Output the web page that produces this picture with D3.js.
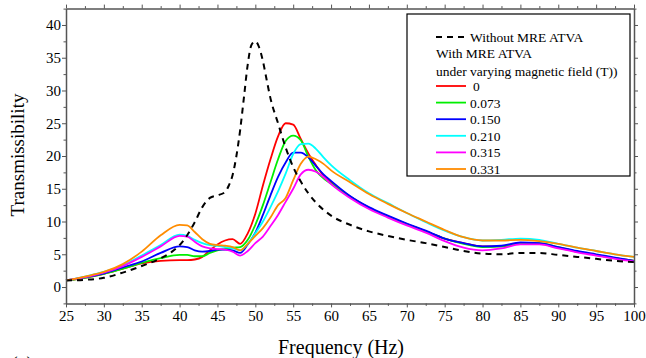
<!DOCTYPE html>
<html>
<head>
<meta charset="utf-8">
<script src="https://cdn.jsdelivr.net/npm/d3@7/dist/d3.min.js"></script>
<style>
  body { margin: 0; background: #fff; }
  svg text { font-family: "Liberation Serif", "Times New Roman", Times, "DejaVu Serif", serif !important; }
</style>
</head>
<body>
<svg id="chart" width="646" height="358"></svg>
<script>
// Transmissibility vs frequency, with and without the MRE ATVA.

// Without MRE ATVA (dashed black)
const freqWithout = [25, 27.5, 30, 32.5, 35, 37.5, 39, 40, 41, 42, 43, 44, 45, 46, 46.5, 47, 47.5, 48, 48.5, 49, 49.5, 50, 50.5, 51, 51.5, 52, 53, 54, 55, 56, 57, 58, 59, 60, 62.5, 65, 67.5, 70, 72.5, 75, 77.5, 80, 82.5, 85, 87.5, 90, 92.5, 95, 97.5, 100];
const without = [1.0, 1.1, 1.4, 2.2, 3.2, 4.4, 5.4, 6.4, 7.9, 9.9, 12.2, 13.6, 14.0, 14.5, 15.5, 17.1, 20.0, 24.0, 29.0, 34.0, 37.0, 37.5, 36.6, 34.5, 31.6, 28.8, 25.0, 21.3, 18.3, 16.1, 14.3, 12.9, 11.8, 10.9, 9.5, 8.5, 7.8, 7.2, 6.7, 6.1, 5.5, 5.1, 5.0, 5.2, 5.2, 4.9, 4.6, 4.3, 4.0, 3.8];

// With MRE ATVA, one series per magnetic field
const freq = [25, 27.5, 30, 32.5, 35, 37.5, 40, 41, 42, 43, 44, 45, 46, 47, 48, 49, 50, 51, 52, 53, 54, 55, 56, 57, 58, 59, 60, 62.5, 65, 67.5, 70, 72.5, 75, 77.5, 80, 82.5, 85, 87.5, 90, 92.5, 95, 97.5, 100];
const field0 = [1.0, 1.4, 2.0, 2.8, 3.6, 4.0, 4.1, 4.1, 4.2, 4.6, 5.6, 6.5, 7.1, 7.3, 6.6, 8.2, 11.2, 15.5, 19.5, 23.0, 25.0, 24.8, 22.6, 20.4, 18.6, 17.0, 16.0, 13.8, 12.1, 10.8, 9.6, 8.5, 7.4, 6.7, 6.2, 6.2, 6.6, 6.6, 6.0, 5.4, 4.9, 4.4, 4.0];
const field073 = [1.0, 1.4, 2.0, 2.8, 3.7, 4.4, 4.9, 4.9, 4.7, 4.7, 5.2, 5.6, 5.8, 6.0, 6.1, 7.2, 9.5, 12.5, 16.0, 19.5, 22.3, 23.1, 22.4, 19.9, 17.8, 16.6, 15.8, 13.8, 12.1, 10.8, 9.6, 8.5, 7.4, 6.6, 6.1, 6.2, 6.7, 6.7, 6.1, 5.4, 4.9, 4.4, 4.0];
const field150 = [1.0, 1.5, 2.1, 3.0, 3.9, 5.2, 6.2, 6.1, 5.6, 5.4, 5.5, 5.7, 5.7, 5.6, 5.2, 6.5, 8.3, 11.0, 14.0, 16.8, 19.0, 20.5, 20.5, 19.8, 18.5, 17.2, 16.2, 13.9, 12.2, 10.9, 9.7, 8.6, 7.4, 6.7, 6.2, 6.3, 6.8, 6.7, 6.1, 5.5, 5.0, 4.5, 4.0];
const field210 = [1.0, 1.6, 2.3, 3.3, 4.8, 6.4, 8.0, 7.8, 7.2, 6.7, 6.4, 6.3, 6.1, 5.9, 5.6, 6.6, 8.2, 10.0, 12.2, 14.6, 17.3, 20.3, 21.8, 21.9, 21.1, 19.8, 18.6, 16.3, 14.3, 12.8, 11.3, 9.9, 8.6, 7.6, 7.1, 7.2, 7.4, 7.2, 6.6, 6.0, 5.5, 5.0, 4.6];
const field315 = [1.0, 1.5, 2.2, 3.2, 4.6, 6.2, 7.8, 7.7, 6.9, 6.2, 5.9, 5.8, 5.7, 5.4, 4.8, 5.5, 6.7, 7.7, 9.3, 11.0, 13.0, 15.0, 17.2, 17.9, 17.6, 16.8, 15.7, 13.6, 11.9, 10.6, 9.4, 8.3, 7.0, 6.0, 5.6, 5.9, 6.5, 6.5, 5.9, 5.3, 4.8, 4.3, 3.9];
const field331 = [1.0, 1.6, 2.3, 3.5, 5.4, 7.9, 9.5, 9.4, 8.4, 7.3, 6.6, 6.4, 6.3, 6.1, 5.6, 6.6, 7.8, 9.0, 10.6, 12.5, 13.6, 16.3, 18.8, 19.9, 19.5, 18.8, 17.8, 16.0, 14.2, 12.7, 11.3, 10.0, 8.7, 7.6, 7.1, 7.1, 7.2, 7.0, 6.6, 6.0, 5.5, 5.0, 4.6];

const fieldLabels = ['0', '0.073', '0.150', '0.210', '0.315', '0.331'];
const fieldColors = ['#ff0000', '#00ee00', '#0000ff', '#00ffff', '#ff00ff', '#ff8c00'];
const fieldSeries = [field0, field073, field150, field210, field315, field331];

const xTicks = d3.range(25, 101, 5);
const yTicks = d3.range(0, 41, 5);

const svg = d3.select('#chart');
const plotLeft = 66, plotRight = 634, plotTop = 8.6, plotBottom = 303.4;

const x = d3.scaleLinear().domain([25, 100]).range([plotLeft, plotRight]);
const y = d3.scaleLinear().domain([-2.5, 42.5]).range([plotBottom, plotTop]);

const line = d3.line()
  .x(d => x(d[0]))
  .y(d => y(d[1]))
  .curve(d3.curveMonotoneX);

// Curves first, frame drawn over them
const curves = svg.append('g');
fieldSeries.forEach((vals, i) => {
  curves.append('path')
    .datum(freq.map((f, k) => [f, vals[k]]))
    .attr('fill', 'none')
    .attr('stroke', fieldColors[i])
    .attr('stroke-width', 1.8)
    .attr('d', line);
});
curves.append('path')
  .datum(freqWithout.map((f, k) => [f, without[k]]))
  .attr('fill', 'none')
  .attr('stroke', '#000')
  .attr('stroke-width', 2)
  .attr('stroke-dasharray', '6,5')
  .attr('d', line);

// Axes: labelled bottom/left, mirrored ticks on top/right
const frameColor = '#555';
function styleAxis(g) {
  g.attr('font-family', null);
  g.select('.domain').attr('stroke', frameColor).attr('stroke-width', 1.5);
  g.selectAll('.tick line').attr('stroke', frameColor);
  g.selectAll('text').attr('fill', '#000').attr('font-size', 15);
}
function minorAxis(axisFn, scale, values, transform) {
  const g = svg.append('g').attr('transform', transform)
    .call(axisFn(scale).tickValues(values).tickSize(2.5).tickFormat(''));
  g.select('.domain').remove();
  g.selectAll('.tick line').attr('stroke', frameColor);
}

const xMinor = d3.range(27.5, 100, 5);
const yMinor = d3.range(-2.5, 42.6, 5);

svg.append('g').attr('transform', `translate(0,${plotBottom})`)
  .call(d3.axisBottom(x).tickValues(xTicks).tickSize(4).tickPadding(3).tickSizeOuter(0))
  .call(styleAxis);
svg.append('g').attr('transform', `translate(${plotLeft},0)`)
  .call(d3.axisLeft(y).tickValues(yTicks).tickSize(4).tickPadding(1).tickSizeOuter(0))
  .call(styleAxis);
svg.append('g').attr('transform', `translate(0,${plotTop})`)
  .call(d3.axisTop(x).tickValues(xTicks).tickSize(4).tickFormat('').tickSizeOuter(0))
  .call(styleAxis);
svg.append('g').attr('transform', `translate(${plotRight},0)`)
  .call(d3.axisRight(y).tickValues(yTicks).tickSize(4).tickFormat('').tickSizeOuter(0))
  .call(styleAxis);
minorAxis(d3.axisBottom, x, xMinor, `translate(0,${plotBottom})`);
minorAxis(d3.axisTop, x, xMinor, `translate(0,${plotTop})`);
minorAxis(d3.axisLeft, y, yMinor, `translate(${plotLeft},0)`);
minorAxis(d3.axisRight, y, yMinor, `translate(${plotRight},0)`);

// Axis titles
svg.append('text')
  .attr('x', 341).attr('y', 354)
  .attr('text-anchor', 'middle')
  .attr('font-size', 20)
  .text('Frequency (Hz)');
svg.append('text')
  .attr('transform', 'translate(24,155) rotate(-90)')
  .attr('text-anchor', 'middle')
  .attr('font-size', 19)
  .text('Transmissibility');

// Panel letter, mostly cut off at the bottom edge as in the source figure
svg.append('text')
  .attr('x', 11).attr('y', 371)
  .attr('font-size', 20)
  .text('(a)');

// Legend
const legend = svg.append('g');
legend.append('rect')
  .attr('x', 407).attr('y', 14)
  .attr('width', 223).attr('height', 162)
  .attr('fill', '#fff')
  .attr('stroke', '#000')
  .attr('stroke-width', 1.2);
legend.append('line')
  .attr('x1', 436).attr('x2', 467).attr('y1', 37).attr('y2', 37)
  .attr('stroke', '#000').attr('stroke-width', 2)
  .attr('stroke-dasharray', '6,5');
const legendFont = 13.5;
legend.append('text').attr('x', 470).attr('y', 42).attr('font-size', legendFont)
  .text('Without MRE ATVA');
legend.append('text').attr('x', 436).attr('y', 58).attr('font-size', legendFont)
  .text('With MRE ATVA');
legend.append('text').attr('x', 436).attr('y', 76).attr('font-size', legendFont)
  .text('under varying magnetic field (T))');
fieldLabels.forEach((lab, i) => {
  const ly = 86 + i * 16.6;
  legend.append('line')
    .attr('x1', 436).attr('x2', 466).attr('y1', ly).attr('y2', ly)
    .attr('stroke', fieldColors[i]).attr('stroke-width', 1.8);
  legend.append('text')
    .attr('x', i === 0 ? 473 : 470).attr('y', ly + 5)
    .attr('font-size', legendFont)
    .text(lab);
});
</script>
</body>
</html>
